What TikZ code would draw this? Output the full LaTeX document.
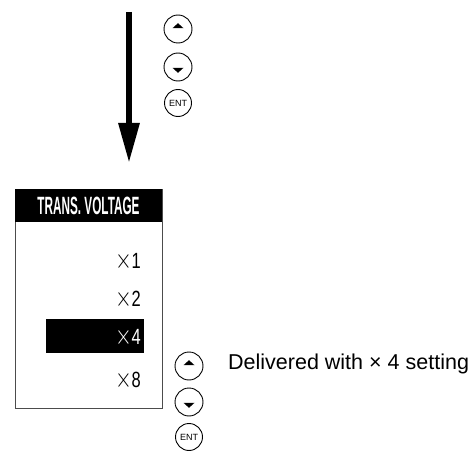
\documentclass[tikz,border=0pt]{standalone}
\usepackage{fontspec}
\setmainfont{Liberation Sans}
\usetikzlibrary{arrows.meta}
\newcommand{\bigx}{\scalebox{1.35}{$\times$}}
\begin{document}
\begin{tikzpicture}[x=1pt,y=-1pt,
  btn/.style={circle,draw,line width=0.9pt,minimum size=28pt,inner sep=0pt},
  btnup/.style={btn,path picture={\fill ([xshift=-5.5pt,yshift=0.8pt]path picture bounding box.center) -- ++(11pt,0pt) -- ++(-5.5pt,5pt) -- cycle;}},
  btndown/.style={btn,path picture={\fill ([xshift=-5.5pt,yshift=-0.8pt]path picture bounding box.center) -- ++(11pt,0pt) -- ++(-5.5pt,-5pt) -- cycle;}},
  btnent/.style={btn,minimum size=27pt,font=\fontsize{9}{9}\selectfont},
  item/.style={anchor=east,inner sep=0pt,font=\fontsize{22}{22}\selectfont,xscale=0.75},
  bigarrow/.style={line width=6pt,-{Triangle[length=40pt,width=20pt]}}
]
\useasboundingbox (0,0) rectangle (472,452);
% big arrow
\coordinate (arrTop) at (129,12);
\coordinate (arrTip) at (129,163);
\draw[bigarrow] (arrTop) -- (arrTip);
% top buttons
\node[btnup] (u1) at (178,29) {};
\node[btndown] (d1) at (178,67) {};
\node[btnent] (e1) at (178,103) {ENT};
% menu box
\node[draw=black!70,line width=0.9pt,minimum width=147pt,minimum height=219pt,anchor=north west,inner sep=0pt] (box) at (15,189) {};
\node[fill=black,minimum width=147pt,minimum height=33pt,anchor=north west,inner sep=0pt] (hdr) at (15,189) {};
\node[text=white,font=\bfseries\fontsize{25}{25}\selectfont,xscale=0.47] (title) at (88.5,206) {TRANS. VOLTAGE};
\node[fill=black,minimum width=98pt,minimum height=34pt,anchor=north west,inner sep=0pt] (sel) at (46,319) {};
\node[item] (x1) at (141,261) {\bigx1};
\node[item] (x2) at (141,299) {\bigx2};
\node[item,text=white] (x4) at (141,337) {\bigx4};
\node[item] (x8) at (141,380) {\bigx8};
% lower buttons
\node[btnup] (u2) at (189,366) {};
\node[btndown] (d2) at (189,402) {};
\node[btnent] (e2) at (189,437) {ENT};
\node[anchor=west,inner sep=0pt,font=\fontsize{21.5}{22}\selectfont] (note) at (228,364) {Delivered with × 4 setting};
\end{tikzpicture}
\end{document}
